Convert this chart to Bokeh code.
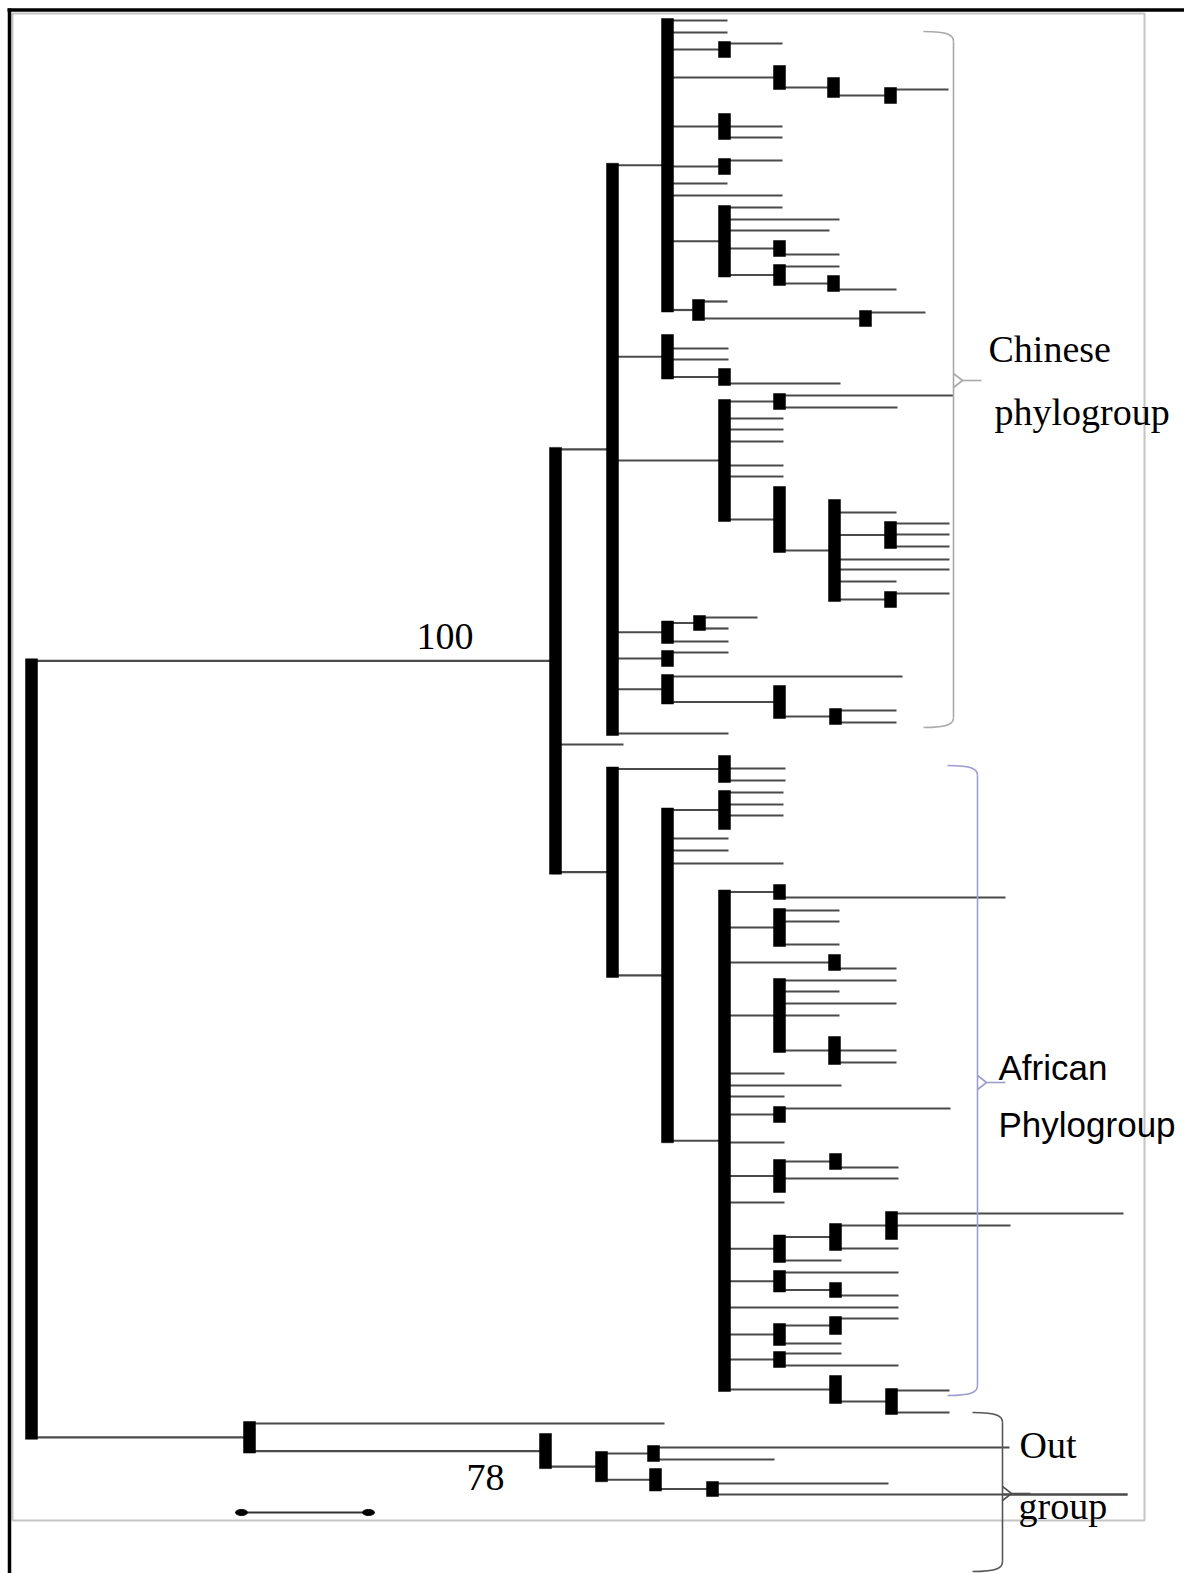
from bokeh.plotting import figure
from bokeh.models import Range1d, ColumnDataSource
from bokeh.embed import file_html
from bokeh.resources import INLINE
from bokeh.core.properties import value

# ---------------------------------------------------------------
# Tree data. Tips are (depth, row); internal nodes are
# (depth, [children]). Depth runs left->right, row top->bottom.
# ---------------------------------------------------------------
CHINESE = (612, [
    (667, [
        (727, 20), (727, 32),
        (724, [(782, 43), (724, 55)]),
        (779, [(779, 67), (833, [(833, 79), (890, [(948, 89), (890, 101)])])]),
        (724, [(724, 115), (782, 126), (782, 137)]),
        (724, [(782, 160), (724, 172)]),
        (727, 183), (782, 195),
        (724, [(782, 207), (839, 219), (829, 230),
               (779, [(779, 242), (839, 254)]),
               (779, [(839, 266), (833, [(833, 277), (896, 289)])])]),
        (698, [(727, 301), (865, [(925, 312), (865, 324)])]),
    ]),
    (667, [(667, 336), (728, 348), (728, 359), (724, [(724, 370), (840, 383)])]),
    (724, [
        (779, [(953, 395), (897, 407)]),
        (783, 418), (783, 429), (783, 441), (783, 465), (783, 476),
        (779, [(779, 488),
               (834, [(834, 501), (896, 512),
                      (890, [(949, 523), (949, 534), (949, 546)]),
                      (949, 559), (949, 569), (896, 581),
                      (890, [(949, 593), (890, 605)])])]),
    ]),
    (667, [(699, [(757, 617), (728, 628)]), (728, 641)]),
    (667, [(728, 652), (667, 664)]),
    (667, [(902, 676), (779, [(779, 687), (835, [(896, 710), (896, 722)])])]),
    (728, 733),
])

AFRICAN_CORE = (724, [
    (779, [(779, 886), (1005, 897)]),
    (779, [(839, 910), (839, 921), (839, 944)]),
    (834, [(834, 956), (896, 968)]),
    (779, [(896, 980), (839, 991), (896, 1003), (839, 1015),
           (834, [(834, 1038), (896, 1050), (896, 1062)])]),
    (784, 1073), (841, 1085), (784, 1096),
    (779, [(950, 1108), (779, 1120)]),
    (784, 1142),
    (779, [(835, [(835, 1155), (898, 1167)]), (898, 1178), (779, 1190)]),
    (784, 1202),
    (779, [(835, [(891, [(1123, 1213), (1010, 1225), (891, 1237)]), (898, 1248)]),
           (841, 1260)]),
    (779, [(898, 1272), (835, [(835, 1284), (898, 1295)])]),
    (898, 1307),
    (779, [(835, [(898, 1318), (835, 1332)]), (841, 1343)]),
    (779, [(841, 1353), (898, 1365)]),
    (835, [(835, 1377), (891, [(949, 1390), (949, 1412)])]),
])

AFRICAN = (612, [
    (724, [(724, 757), (785, 768), (785, 780)]),
    (667, [
        (724, [(783, 792), (783, 804), (783, 815), (724, 827)]),
        (728, 838), (728, 850), (783, 863),
        AFRICAN_CORE,
    ]),
])

OUTGROUP = (249, [
    (664, 1423),
    (545, [(545, 1435),
           (601, [(653, [(1009, 1447), (774, 1459)]),
                  (655, [(655, 1470), (712, [(888, 1483), (1127, 1494)])])])]),
])

INGROUP = (555, [CHINESE, (623, 744), AFRICAN])
ROOT = (31, [INGROUP, OUTGROUP])

# bootstrap supports: (text, depth, row of baseline)
SUPPORT = [("100", 416, 636), ("78", 466, 1477)]

# clade brackets: x, top, bottom, tip row, colour
BRACKET_X = [953, 977, 1002]
BRACKET_TOP = [33, 767, 1414]
BRACKET_BOTTOM = [725, 1393, 1569]
BRACKET_TIP = [380, 1082, 1493]
BRACKET_COLOR = ["#a9a9a9", "#9d9dcf", "#555555"]

# clade names
CLADE_LINES = ["Chinese", "phylogroup", "African", "Phylogroup", "Out", "group"]
CLADE_X = [988, 994, 998, 998, 1019, 1018]
CLADE_Y = [348, 411, 1067, 1124, 1444, 1505]
CLADE_FONT = ["Liberation Serif", "Liberation Serif", "Liberation Sans",
              "Liberation Sans", "Liberation Serif", "Liberation Serif"]
CLADE_SIZE = ["38px", "38px", "35px", "35px", "38px", "38px"]

# scale bar
SCALE_X = [241, 368]
SCALE_Y = 1512


def layout(node, parent_x, segs, bars):
    x, kids = node
    if isinstance(kids, list):
        ys = [layout(k, x, segs, bars) for k in kids]
        y = (ys[0] + ys[-1]) / 2.0
        bars.append((x, ys[0], ys[-1]))
    else:
        y = kids
    if parent_x is not None and x != parent_x:
        segs.append((parent_x, x, y))
    return y


segs, bars = [], []
layout(ROOT, None, segs, bars)

W, H = 1184, 1573
p = figure(width=W, height=H, x_range=Range1d(0, W), y_range=Range1d(H, 0),
           output_backend="svg", toolbar_location=None, min_border=0,
           x_axis_location=None, y_axis_location=None)
p.grid.visible = False
p.outline_line_color = None
p.background_fill_color = "white"
p.border_fill_color = "white"

# page frames
p.quad(left=[12], right=[1144], top=[13], bottom=[1520], fill_color=None,
       line_color="#c4c4c4", line_width=2)
p.segment(x0=[7], y0=[9.5], x1=[W], y1=[9.5], line_color="black", line_width=3.5)
p.segment(x0=[9], y0=[8], x1=[9], y1=[H], line_color="black", line_width=3.5)

# branches
seg_src = ColumnDataSource(dict(x0=[s[0] for s in segs], x1=[s[1] for s in segs],
                                y=[s[2] for s in segs]))
p.segment(x0="x0", y0="y", x1="x1", y1="y", source=seg_src,
          line_color="#4a4a4a", line_width=2.2)

# node bars
BAR_W, PAD = 12, 2
bar_src = ColumnDataSource(dict(
    left=[b[0] - BAR_W / 2 for b in bars], right=[b[0] + BAR_W / 2 for b in bars],
    top=[b[1] - PAD for b in bars], bottom=[b[2] + PAD for b in bars]))
p.quad(left="left", right="right", top="top", bottom="bottom", source=bar_src,
       fill_color="black", line_color="black", line_width=0.5)

# brackets
for bx, bt, bb, tip, col in zip(BRACKET_X, BRACKET_TOP, BRACKET_BOTTOM,
                                 BRACKET_TIP, BRACKET_COLOR):
    p.segment(x0=[bx], y0=[bt + 8], x1=[bx], y1=[bb - 8], line_color=col, line_width=1.6)
    p.bezier(x0=[bx - 30], y0=[bt - 2], x1=[bx], y1=[bt + 8],
             cx0=[bx - 4], cy0=[bt - 2], cx1=[bx], cy1=[bt + 2],
             line_color=col, line_width=1.6)
    p.bezier(x0=[bx], y0=[bb - 8], x1=[bx - 30], y1=[bb + 2],
             cx0=[bx], cy0=[bb - 2], cx1=[bx - 4], cy1=[bb + 2],
             line_color=col, line_width=1.6)
    p.multi_line(xs=[[bx, bx + 9, bx]], ys=[[tip - 7, tip, tip + 7]],
                 line_color=col, line_width=1.6)
    p.segment(x0=[bx + 9], y0=[tip], x1=[bx + 28], y1=[tip], line_color=col, line_width=1.6)

# scale bar
p.segment(x0=[SCALE_X[0]], y0=[SCALE_Y], x1=[SCALE_X[1]], y1=[SCALE_Y],
          line_color="#333333", line_width=2)
p.ellipse(x=SCALE_X, y=[SCALE_Y] * 2, width=12, height=6, fill_color="black",
          line_color="black")

# support values
p.text(x=[s[1] for s in SUPPORT], y=[s[2] for s in SUPPORT], text=[s[0] for s in SUPPORT],
       text_font=value("Liberation Serif"), text_font_size="38px",
       text_baseline="alphabetic", text_align="left", text_color="black")

# clade names
lab_src = ColumnDataSource(dict(x=CLADE_X, y=CLADE_Y, text=CLADE_LINES,
                                font=CLADE_FONT, size=CLADE_SIZE))
p.text(x="x", y="y", text="text", source=lab_src, text_font="font",
       text_font_size="size", text_baseline="alphabetic", text_align="left",
       text_color="black")

# long outgroup tip crosses its label
p.segment(x0=[1002], y0=[1494], x1=[1127], y1=[1494], line_color="#4a4a4a", line_width=2.2)

open("out.html", "w").write(file_html(p, INLINE))
